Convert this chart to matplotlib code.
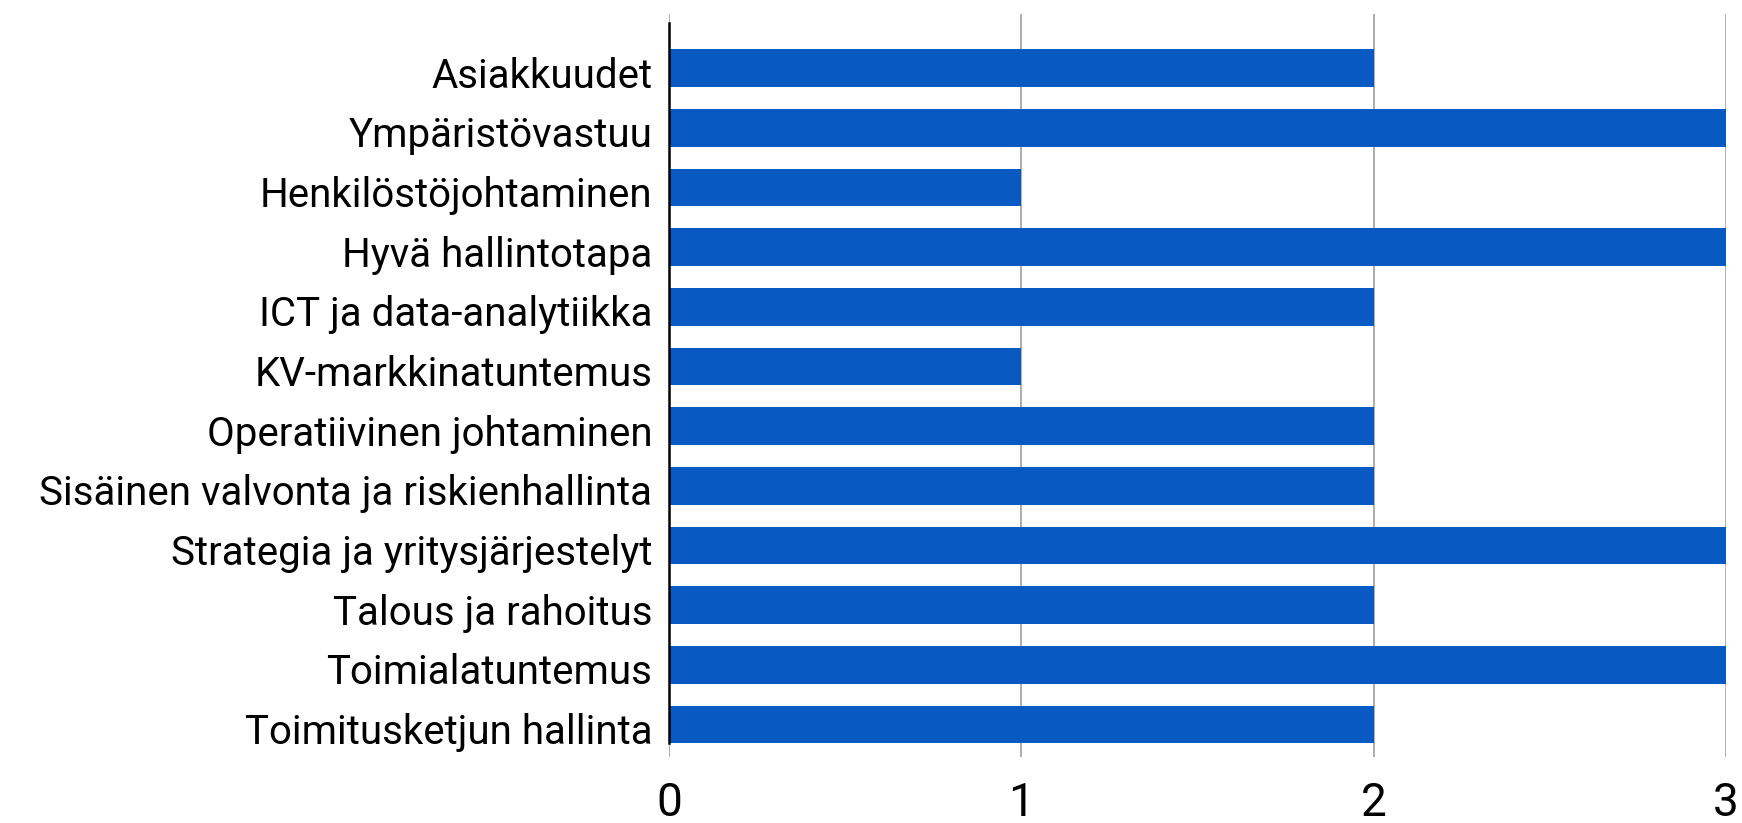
import matplotlib
matplotlib.use('Agg')
import matplotlib.pyplot as plt
from matplotlib.transforms import ScaledTranslation

# osaamisalueet ja arvot
categories = [
    'Asiakkuudet',
    'Ympäristövastuu',
    'Henkilöstöjohtaminen',
    'Hyvä hallintotapa',
    'ICT ja data-analytiikka',
    'KV-markkinatuntemus',
    'Operatiivinen johtaminen',
    'Sisäinen valvonta ja riskienhallinta',
    'Strategia ja yritysjärjestelyt',
    'Talous ja rahoitus',
    'Toimialatuntemus',
    'Toimitusketjun hallinta',
]
values = [2, 3, 1, 3, 2, 1, 2, 2, 3, 2, 3, 2]
xticks = [0, 1, 2, 3]

plt.rcParams['font.family'] = ['Roboto', 'DejaVu Sans']

fig = plt.figure(figsize=(17.42, 8.23), dpi=100)
ax = fig.add_axes([0.384, 0.080, 0.6068, 0.903])

pos = list(range(len(categories)))
ax.barh(pos, values, height=0.63, color='#0959C3', zorder=3)

ax.set_xlim(0, 3)
ax.set_ylim(11.544, -0.905)
ax.set_yticks(pos)
ax.set_yticklabels(categories, fontsize=29)
ax.set_xticks(xticks)
ax.set_xticklabels([str(t) for t in xticks], fontsize=33)
ax.tick_params(axis='y', length=0, pad=12)
ax.tick_params(axis='x', length=0, pad=17)

# tekstit hieman alemmas kuten alkuperäisessä
shift = ScaledTranslation(0, -4 / 100, fig.dpi_scale_trans)
for lbl in ax.get_yticklabels():
    lbl.set_transform(lbl.get_transform() + shift)

ax.grid(axis='x', color='#a0a0a0', linewidth=1.2, zorder=1)
for s in ['top', 'right', 'bottom']:
    ax.spines[s].set_visible(False)
ax.spines['left'].set_linewidth(1.8)
ax.spines['left'].set_zorder(4)
ax.spines['left'].set_bounds(11.31, -0.75)

fig.savefig('out.png', dpi=100)
